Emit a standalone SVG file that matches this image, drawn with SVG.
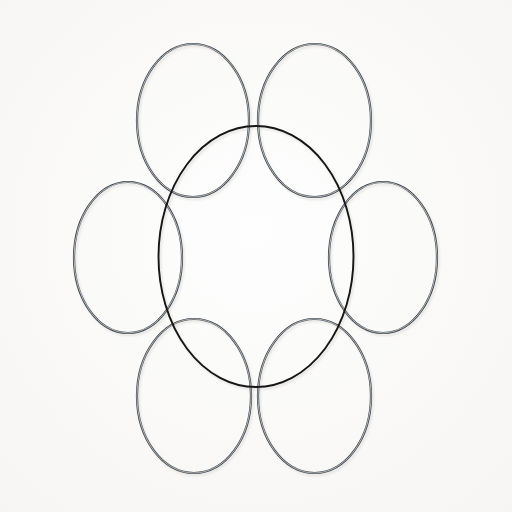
<svg xmlns="http://www.w3.org/2000/svg" width="512" height="512" viewBox="0 0 512 512">
  <defs>
    <radialGradient id="bg" cx="50%" cy="45%" r="75%">
      <stop offset="0" stop-color="#fefefe"/>
      <stop offset="1" stop-color="#f6f5f3"/>
    </radialGradient>
    <filter id="blur" x="-10%" y="-10%" width="120%" height="120%">
      <feGaussianBlur stdDeviation="1.2"/>
    </filter>
  </defs>
  <style>
    .shadow { fill: none; stroke: #d2cfcb; stroke-width: 2.2; opacity: 0.55; }
    .ringOuter { fill: none; stroke: #40464b; stroke-width: 2.2; }
    .ringInner { fill: none; stroke: #e2e7ec; stroke-width: 0.7; }
    .center { fill: none; stroke: #161616; stroke-width: 1.9; }
  </style>
  <rect width="512" height="512" fill="url(#bg)"/>
  <g id="shadows" filter="url(#blur)">
    <ellipse class="shadow" cx="194.5" cy="122.5" rx="56" ry="76.5"/>
    <ellipse class="shadow" cx="316" cy="122.5" rx="56.5" ry="76.5"/>
    <ellipse class="shadow" cx="129.5" cy="259.5" rx="54" ry="75.5"/>
    <ellipse class="shadow" cx="384.5" cy="259.5" rx="54" ry="75.5"/>
    <ellipse class="shadow" cx="195.5" cy="398" rx="57" ry="77"/>
    <ellipse class="shadow" cx="316" cy="398" rx="56.5" ry="77"/>
    <ellipse class="shadow" cx="257.5" cy="258.5" rx="97.5" ry="130.5"/>
  </g>
  <g id="ring-top-left">
    <ellipse class="ringOuter" cx="193" cy="120.5" rx="56" ry="76.5"/>
    <ellipse class="ringInner" cx="193" cy="120.5" rx="56" ry="76.5"/>
  </g>
  <g id="ring-top-right">
    <ellipse class="ringOuter" cx="314.5" cy="120.5" rx="56.5" ry="76.5"/>
    <ellipse class="ringInner" cx="314.5" cy="120.5" rx="56.5" ry="76.5"/>
  </g>
  <g id="ring-left">
    <ellipse class="ringOuter" cx="128" cy="257.5" rx="54" ry="75.5"/>
    <ellipse class="ringInner" cx="128" cy="257.5" rx="54" ry="75.5"/>
  </g>
  <g id="ring-right">
    <ellipse class="ringOuter" cx="383" cy="257.5" rx="54" ry="75.5"/>
    <ellipse class="ringInner" cx="383" cy="257.5" rx="54" ry="75.5"/>
  </g>
  <g id="ring-bottom-left">
    <ellipse class="ringOuter" cx="194" cy="396" rx="57" ry="77"/>
    <ellipse class="ringInner" cx="194" cy="396" rx="57" ry="77"/>
  </g>
  <g id="ring-bottom-right">
    <ellipse class="ringOuter" cx="314.5" cy="396" rx="56.5" ry="77"/>
    <ellipse class="ringInner" cx="314.5" cy="396" rx="56.5" ry="77"/>
  </g>
  <g id="ring-center">
    <ellipse class="center" cx="256" cy="256.5" rx="97.5" ry="130.5"/>
  </g>
</svg>
